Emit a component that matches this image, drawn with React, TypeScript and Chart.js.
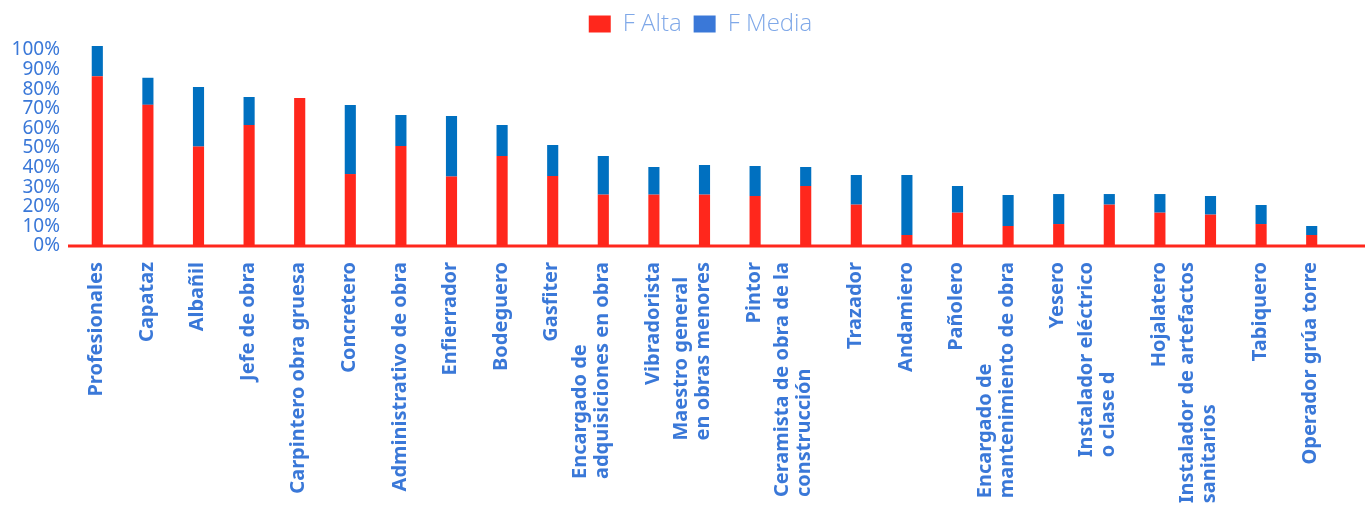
import React, { useEffect, useRef } from "react";
import { Chart, registerables } from "chart.js";

Chart.register(...registerables);

const categories: (string | string[])[] = [
  "Profesionales",
  "Capataz",
  "Albañil",
  "Jefe de obra",
  "Carpintero obra gruesa",
  "Concretero",
  "Administrativo de obra",
  "Enfierrador",
  "Bodeguero",
  "Gasfiter",
  ["Encargado de", "adquisiciones en obra"],
  "Vibradorista",
  ["Maestro general", "en obras menores"],
  "Pintor",
  ["Ceramista de obra de la", "construcción"],
  "Trazador",
  "Andamiero",
  "Pañolero",
  ["Encargado de", "mantenimiento de obra"],
  "Yesero",
  ["Instalador eléctrico", "o clase d"],
  "Hojalatero",
  ["Instalador de artefactos", "sanitarios"],
  "Tabiquero",
  "Operador grúa torre",
];

const fAlta = [86.6, 72, 50.7, 61.7, 75.5, 36.7, 51, 35.4, 45.9, 35.7, 26.2, 26.2, 26.2, 25.5, 30.6, 21.1, 5.6, 17, 10.2, 11.2, 21.1, 17, 16, 11.2, 5.6];
const fMedia = [15.4, 13.8, 30.4, 14.3, 0, 35.2, 15.8, 30.9, 15.8, 15.8, 19.7, 14.1, 15.1, 15.3, 9.7, 15.1, 30.6, 13.6, 15.8, 15.3, 5.4, 9.5, 9.5, 9.7, 4.6];

const yTicks = [0, 10, 20, 30, 40, 50, 60, 70, 80, 90, 100];

const RED = "#FF271C";
const BLUE = "#0070C0";
const LEGEND_BLUE = "#3A78D8";
const TEXT_BLUE = "#3A78D8";
const X_FONT = "bold 20px 'Noto Sans', sans-serif";
const X_LINE_HEIGHT = 22;

const baselinePlugin = {
  id: "baseline",
  afterDatasetsDraw(chart: any) {
    const { ctx, chartArea, scales } = chart;
    const y = scales.y.getPixelForValue(0);
    ctx.save();
    ctx.strokeStyle = RED;
    ctx.lineWidth = 3;
    ctx.beginPath();
    ctx.moveTo(chartArea.left - 4, y);
    ctx.lineTo(chart.width, y);
    ctx.stroke();
    ctx.restore();
  },
};

// Category labels: rotated, lines left-aligned inside a block whose top sits under the axis
const xLabelPlugin = {
  id: "xLabels",
  afterDraw(chart: any) {
    const { ctx } = chart;
    const xs = chart.scales.x;
    ctx.save();
    ctx.font = X_FONT;
    ctx.fillStyle = TEXT_BLUE;
    ctx.textAlign = "left";
    ctx.textBaseline = "middle";
    categories.forEach((lab, i) => {
      const lines = Array.isArray(lab) ? lab : [lab];
      const x = xs.getPixelForTick(i);
      const maxW = Math.max(...lines.map((l) => ctx.measureText(l).width));
      const top = xs.top + 16;
      ctx.save();
      ctx.translate(x, top + maxW);
      ctx.rotate(-Math.PI / 2);
      lines.forEach((l, j) => {
        ctx.fillText(l, 0, -(lines.length - 1 - j) * X_LINE_HEIGHT - 1);
      });
      ctx.restore();
    });
    ctx.restore();
  },
};

const legendShiftPlugin = {
  id: "legendShift",
  afterLayout(chart: any) {
    const lg = chart.legend;
    if (lg) {
      lg.left += 32;
      lg.right += 32;
    }
  },
};

export default function App() {
  const canvasRef = useRef<HTMLCanvasElement | null>(null);

  useEffect(() => {
    document.body.style.margin = "0";
    const canvas = canvasRef.current;
    if (!canvas) return;
    const chart = new Chart(canvas, {
      type: "bar",
      data: {
        labels: categories,
        datasets: [
          {
            label: "F Alta",
            data: fAlta,
            backgroundColor: RED,
            borderWidth: 0,
            categoryPercentage: 0.22,
            barPercentage: 1,
          },
          {
            label: "F Media",
            data: fMedia,
            backgroundColor: BLUE,
            borderWidth: 0,
            categoryPercentage: 0.22,
            barPercentage: 1,
          },
        ],
      },
      options: {
        animation: false,
        responsive: false,
        maintainAspectRatio: false,
        layout: { padding: { left: 0, right: 28, top: 0, bottom: 0 } },
        plugins: {
          tooltip: { enabled: false },
          legend: {
            position: "top",
            align: "center",
            labels: {
              boxWidth: 22,
              boxHeight: 17,
              padding: 12,
              color: "#7FA8E8",
              font: { family: "'Open Sans', 'Noto Sans', sans-serif", size: 24, weight: "300" },
              generateLabels(chart: any) {
                const items = Chart.defaults.plugins.legend.labels.generateLabels(chart);
                return items.map((it: any, i: number) => ({
                  ...it,
                  fillStyle: i === 1 ? LEGEND_BLUE : RED,
                  strokeStyle: i === 1 ? LEGEND_BLUE : RED,
                  lineWidth: 0,
                }));
              },
            },
          },
        },
        scales: {
          x: {
            stacked: true,
            grid: { display: false, drawTicks: false },
            border: { display: false },
            ticks: { display: false, autoSkip: false },
            afterFit(scale: any) {
              scale.height = 261;
            },
          },
          y: {
            stacked: true,
            min: 0,
            max: 102,
            grid: { display: false, drawTicks: false },
            border: { display: false },
            afterBuildTicks(scale: any) {
              scale.ticks = yTicks.map((v) => ({ value: v }));
            },
            ticks: {
              autoSkip: false,
              padding: 12,
              color: TEXT_BLUE,
              font: { family: "'Noto Sans', sans-serif", size: 19 },
              callback: (v: any) => v + "%",
            },
            afterFit(scale: any) {
              scale.width = 72;
            },
          },
        },
      },
      plugins: [baselinePlugin, xLabelPlugin, legendShiftPlugin],
    });
    return () => chart.destroy();
  }, []);

  return (
    <div style={{ width: 1365, height: 507 }}>
      <canvas ref={canvasRef} width={1365} height={507} style={{ display: "block" }} />
    </div>
  );
}
